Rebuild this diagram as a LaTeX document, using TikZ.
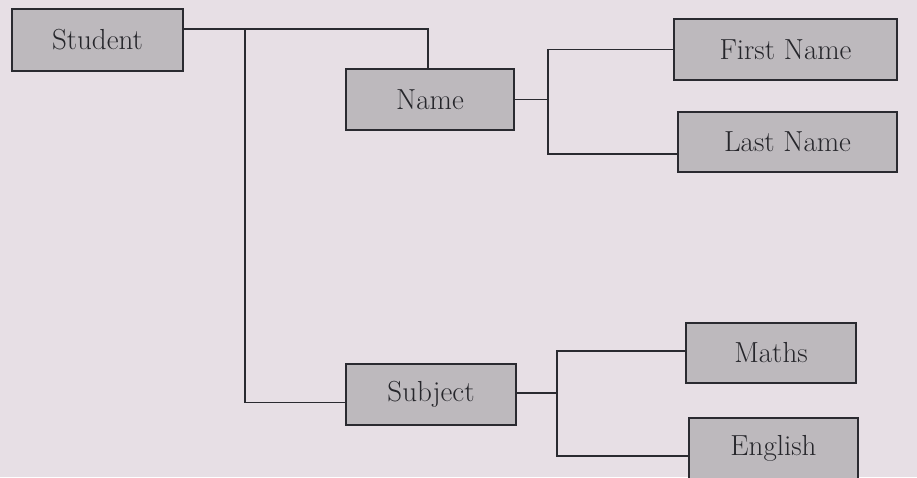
\documentclass[tikz,border=0pt]{standalone}
\usepackage{tikz}
\definecolor{paper}{HTML}{E7DFE5}
\definecolor{boxfill}{HTML}{BDB9BD}
\definecolor{ink}{HTML}{2A2A30}
\begin{document}
\begin{tikzpicture}[x=1pt,y=-1pt,
  entity/.style={draw=ink,line width=1.8pt,fill=boxfill,inner sep=0pt,
    text=ink!90!black,font=\fontsize{29}{34}\selectfont},
  link/.style={draw=ink,line width=1.2pt}]
\fill[paper] (0,0) rectangle (917,477);
\useasboundingbox (0,0) rectangle (917,477);
\node[entity,minimum width=171pt,minimum height=62pt] (st) at (97.5,40) {Student};
\node[entity,minimum width=168pt,minimum height=61pt] (nm) at (430,99.5) {Name};
\node[entity,minimum width=223pt,minimum height=61pt] (fn) at (785.5,49.5) {First Name};
\node[entity,minimum width=219pt,minimum height=60pt] (ln) at (787.5,142) {Last Name};
\node[entity,minimum width=170pt,minimum height=61pt] (sb) at (431,394.5) {Subject};
\node[entity,minimum width=170pt,minimum height=60pt] (ma) at (771,353) {Maths};
\node[entity,minimum width=169pt,minimum height=61pt] (en) at (773.5,448.5) {English};
\coordinate (s1) at (245,29);
\coordinate (j2) at (548,0);
\coordinate (j3) at (557,0);
\draw[link] ([yshift=11pt]st.east) -| ([xshift=-2pt]nm.north);
\draw[link] (s1) |- ([yshift=-8pt]sb.west);
\draw[link] (nm.east) -- (nm.east -| j2);
\draw[link] (fn.west) -- (fn.west -| j2) |- ([yshift=-12pt]ln.west);
\draw[link] ([yshift=1.5pt]sb.east) -- ([yshift=1.5pt]sb.east -| j3);
\draw[link] ([yshift=2pt]ma.west) -- ([yshift=2pt]ma.west -| j3) |- ([yshift=-7.5pt]en.west);
\end{tikzpicture}
\end{document}
